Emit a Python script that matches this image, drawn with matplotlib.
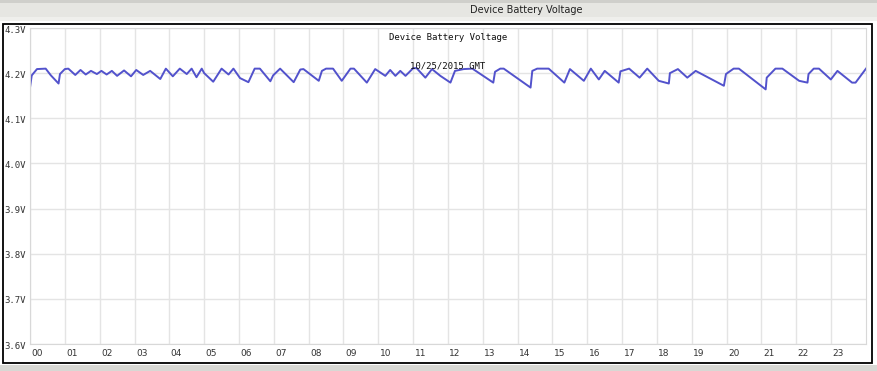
import numpy as np
import matplotlib
matplotlib.use('Agg')
import matplotlib.pyplot as plt
from matplotlib.patches import Rectangle

# Battery voltage readings (hour of day, volts)
hours = [0.0, 0.05, 0.2, 0.45, 0.6, 0.82, 0.86, 1.0, 1.1, 1.3, 1.45, 1.6, 1.75, 1.92,
         2.05, 2.2, 2.35, 2.5, 2.7, 2.9, 3.05, 3.25, 3.45, 3.74, 3.9, 4.1, 4.3, 4.5,
         4.64, 4.78, 4.93, 5.0, 5.26, 5.5, 5.7, 5.84, 6.03, 6.27, 6.45, 6.6, 6.9, 6.98,
         7.18, 7.57, 7.76, 7.85, 8.29, 8.38, 8.5, 8.7, 8.95, 9.2, 9.3, 9.67, 9.91, 10.2,
         10.34, 10.49, 10.63, 10.78, 11.0, 11.1, 11.35, 11.54, 11.78, 12.07, 12.2, 12.45,
         12.7, 13.3, 13.35, 13.5, 13.6, 14.37, 14.42, 14.56, 14.89, 15.34, 15.5, 15.9,
         16.1, 16.33, 16.5, 16.9, 16.95, 17.2, 17.5, 17.72, 18.05, 18.34, 18.37, 18.6,
         18.87, 19.11, 19.92, 19.98, 20.2, 20.35, 21.12, 21.15, 21.4, 21.6, 22.08, 22.32,
         22.35, 22.5, 22.65, 22.99, 23.18, 23.6, 23.7, 23.99, 24.0]
volts = [4.168, 4.195, 4.209, 4.210, 4.195, 4.177, 4.198, 4.209, 4.210, 4.196, 4.207, 4.197, 4.205, 4.198,
         4.205, 4.197, 4.205, 4.194, 4.206, 4.193, 4.207, 4.196, 4.205, 4.187, 4.210, 4.193, 4.210, 4.198,
         4.210, 4.191, 4.210, 4.200, 4.181, 4.210, 4.197, 4.210, 4.189, 4.180, 4.210, 4.210, 4.182, 4.195,
         4.210, 4.180, 4.208, 4.209, 4.183, 4.205, 4.210, 4.210, 4.183, 4.210, 4.210, 4.179, 4.209, 4.194,
         4.207, 4.194, 4.205, 4.194, 4.211, 4.211, 4.190, 4.209, 4.194, 4.179, 4.205, 4.209,
         4.210, 4.179, 4.203, 4.210, 4.210, 4.168, 4.205, 4.210, 4.210, 4.179, 4.209, 4.183,
         4.210, 4.186, 4.205, 4.179, 4.204, 4.210, 4.190, 4.210, 4.183, 4.177, 4.200, 4.209,
         4.190, 4.205, 4.172, 4.198, 4.210, 4.210, 4.164, 4.190, 4.210, 4.210, 4.183, 4.179,
         4.198, 4.210, 4.210, 4.186, 4.205, 4.179, 4.179, 4.209, 4.210]

y_ticks = [3.6, 3.7, 3.8, 3.9, 4.0, 4.1, 4.2, 4.3]
x_labels = ['%02d' % h for h in range(24)]

W, H = 877, 371
fig = plt.figure(figsize=(W / 100, H / 100), dpi=100)
fig.patch.set_facecolor('white')


def rect(x0, y0, x1, y1, **kw):
    # pixel box -> figure coords
    fig.patches.append(Rectangle((x0 / W, 1 - y1 / H), (x1 - x0) / W, (y1 - y0) / H,
                                 transform=fig.transFigure, figure=fig, **kw))


# window chrome: header bar, bottom bar, outer frame
rect(0, 0, W, 18, facecolor='#e6e6e2', edgecolor='none')
rect(0, 0, W, 3, facecolor='#cfcfcb', edgecolor='none')
rect(0, 17, W, 21, facecolor='#efefec', edgecolor='none')
rect(0, 365, W, H, facecolor='#d8d8d4', edgecolor='none')
rect(2.5, 23.5, 871.5, 363, facecolor='none', edgecolor='black', lw=1.3)
fig.text(526 / W, 1 - 10 / H, 'Device Battery Voltage', ha='center', va='center',
         fontsize=7, color='#222222')

ax = fig.add_axes([30 / W, 1 - 344 / H, 836 / W, 316 / H])
ax.plot(hours, volts, color='#5252cc', lw=1.4, solid_joinstyle='round')

ax.set_xlim(0, 24)
ax.set_ylim(3.6, 4.3)
ax.set_xticks(range(24))
ax.set_yticks(y_ticks)
ax.set_xticklabels([])
ax.set_yticklabels([])
ax.tick_params(length=0)
ax.grid(True, color='#e4e4e4', lw=1)
ax.set_axisbelow(True)
for s in ax.spines.values():
    s.set_color('#d8d8d8')

for h, lab in zip(range(24), x_labels):
    ax.annotate(lab, (h, 3.6), xytext=(1, -7), textcoords='offset points',
                ha='left', va='center', fontsize=6.5, color='#333333')
for v in y_ticks:
    ax.annotate('%.1fV' % v, (0, v), xytext=(-3, -1.5), textcoords='offset points',
                ha='right', va='center', fontsize=6.5, color='#333333',
                family='DejaVu Sans Mono')

ax.text(0.5, 0.97, 'Device Battery Voltage', transform=ax.transAxes, ha='center',
        va='center', fontsize=6.5, family='DejaVu Sans Mono', color='#111111')
ax.text(0.5, 0.88, '10/25/2015 GMT', transform=ax.transAxes, ha='center',
        va='center', fontsize=6.5, family='DejaVu Sans Mono', color='#111111')

fig.savefig('out.png', dpi=100)
